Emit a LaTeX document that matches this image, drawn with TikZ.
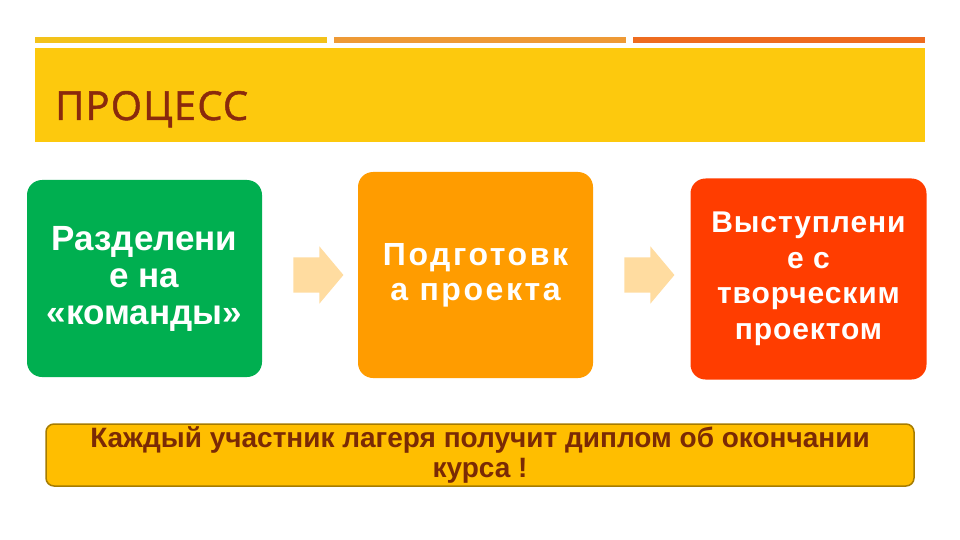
\documentclass[tikz,border=0pt]{standalone}
\usepackage{fontspec}
\setmainfont{Liberation Sans}
\newfontfamily\titlefont[FakeBold=1.2]{Open Sans}
\usepackage{tikz}
\usetikzlibrary{shapes.arrows,%
                positioning}

\definecolor{barA}{HTML}{F3C21A}
\definecolor{barB}{HTML}{EE9A35}
\definecolor{barC}{HTML}{EE6C1F}
\definecolor{banner}{HTML}{FDC90D}
\definecolor{titletext}{HTML}{8A2A0C}
\definecolor{stepgreen}{HTML}{00AF50}
\definecolor{steporange}{HTML}{FF9C00}
\definecolor{stepred}{HTML}{FF3D00}
\definecolor{arrowpeach}{HTML}{FFDCA0}
\definecolor{notefill}{HTML}{FFBE00}
\definecolor{noteline}{HTML}{A67C00}
\definecolor{notetext}{HTML}{7A2A05}

\begin{document}
\begin{tikzpicture}[x=1pt,y=-1pt]
		\useasboundingbox[fill=white] (0,0) rectangle (960,540);
		%\draw[help lines,step=40] (0,0) grid (960,540);
		\tikzstyle{BarStyle}=[inner sep=0pt,minimum height=6pt,anchor=west]
		\node[BarStyle,fill=barA,minimum width=292pt] (barA) at (35,40) {};
		\node[BarStyle,fill=barB,minimum width=292pt] (barB) at (334,40) {};
		\node[BarStyle,fill=barC,minimum width=292pt] (barC) at (633,40) {};
		\node[fill=banner,inner sep=0pt,minimum width=890pt,minimum height=94pt,anchor=north west] (banner) at (35,48) {};
		\node[anchor=base west,inner sep=0pt,text=titletext,font=\titlefont\fontsize{40}{44}\selectfont\addfontfeature{LetterSpace=3}] (title) at (55,120) {ПРОЦЕСС};
		{
			\tikzset{StepStyle/.style = {rounded corners=15pt,inner sep=0pt,align=center,text=white}}
			\node[StepStyle,fill=stepgreen,minimum width=235pt,minimum height=197pt,
				font=\fontsize{35}{37}\selectfont\bfseries] (split) at (144.5,278.5) {Разделени\\е на\\«команды»};
			\node[StepStyle,fill=steporange,minimum width=235pt,minimum height=206pt,
				font=\fontsize{32}{35}\selectfont\bfseries\addfontfeature{LetterSpace=8}] (prep) at (475.5,275) {Подготовк\\а проекта};
			\node[StepStyle,fill=stepred,minimum width=236pt,minimum height=201pt,
				font=\fontsize{30}{35.5}\selectfont\bfseries\addfontfeature{LetterSpace=3}] (show) at (808.5,279) {Выступлени\\е с\\творческим\\проектом};
		}
		{
			\tikzset{ArrowStyle/.style = {single arrow,fill=arrowpeach,inner xsep=0pt,inner ysep=17.5pt,minimum height=50pt,single arrow head extend=11pt,single arrow tip angle=100}}
			\node[ArrowStyle] (arrA) at (311,275) {};
			\node[ArrowStyle] (arrB) at (642,275) {};
		}
		\node[draw=noteline,line width=1.5pt,fill=notefill,rounded corners=8pt,minimum width=868pt,minimum height=62pt,inner sep=0pt,align=center,text=notetext,font=\fontsize{28}{30}\selectfont\bfseries] (note) at (480,455) {Каждый участник лагеря получит диплом об окончании\\курса !};
		%\draw[red] (split.east) -- (prep.west);
	\end{tikzpicture}
\end{document}
